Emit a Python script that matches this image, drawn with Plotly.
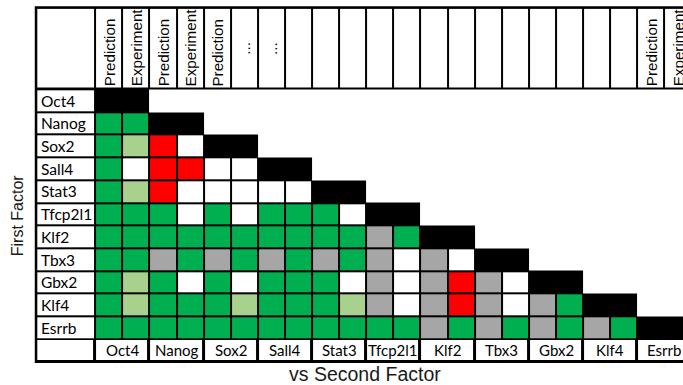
import plotly.graph_objects as go

# Factors, in row / column order
factors = ["Oct4", "Nanog", "Sox2", "Sall4", "Stat3", "Tfcp2l1",
           "Klf2", "Tbx3", "Gbx2", "Klf4", "Esrrb"]

# Sub-column captions of the header row (Prediction / Experiment per factor)
header_labels = (["Prediction", "Experiment", "Prediction", "Experiment",
                  "Prediction", "...", "..."] + [""] * 13 +
                 ["Prediction", "Experiment"])

# Outcome codes, one pair (prediction, experiment) per earlier factor
# G = green, L = light green, R = red, W = white, N = grey (no call)
outcomes = [
    "",
    "GG",
    "GLRW",
    "GWRRWW",
    "GLRWWWWW",
    "GGGWGWGGGW",
    "GGGGGGGGGGNG",
    "GGNGNGNGNGNWNW",
    "GLGWGWGGGWNWNRNW",
    "GLGGGLGGGLNWNRNWNG",
    "GGGGGGGGGGGGNGNGNGNG",
]

code_value = {"W": 0, "G": 1, "L": 2, "R": 3, "N": 4, "B": 5}
palette = ["#FFFFFF", "#00B050", "#A9D18E", "#FF0000", "#A6A6A6", "#000000"]

n = len(factors)
ncol = 2 * n
label_left = -2.188
header_top = -3.604

x_edges = [label_left] + list(range(ncol + 1))
y_body = list(range(n + 1))

# Cell values for the body (label column + 22 sub-columns)
body = []
for r in range(n):
    row = [0]
    for c in range(ncol):
        if c < 2 * r:
            row.append(code_value[outcomes[r][c]])
        elif c in (2 * r, 2 * r + 1):
            row.append(code_value["B"])
        else:
            row.append(None)
    body.append(row)

# Black backing that shows through the gaps as cell borders
backing = [[1] * (ncol + 1)]
for r in range(n):
    backing.append([1 if v is not None else None for v in body[r]])
backing.append([1] * (ncol + 1))

scale = [[i / 5, col] for i, col in enumerate(palette)]

fig = go.Figure()
fig.add_trace(go.Heatmap(
    z=backing, x=x_edges, y=[header_top] + y_body + [n + 1],
    colorscale=[[0, "#000000"], [1, "#000000"]], zmin=0, zmax=1,
    showscale=False, hoverinfo="skip"))
fig.add_trace(go.Heatmap(
    z=[[0] * (ncol + 1)], x=x_edges, y=[header_top, 0],
    colorscale=scale, zmin=0, zmax=5, xgap=2, ygap=3,
    showscale=False, hoverinfo="skip"))
fig.add_trace(go.Heatmap(
    z=body, x=x_edges, y=y_body,
    colorscale=scale, zmin=0, zmax=5, xgap=2, ygap=2,
    showscale=False, hoverinfo="skip"))
fig.add_trace(go.Heatmap(
    z=[[0] * (n + 1)], x=[label_left] + list(range(0, ncol + 1, 2)),
    y=[n, n + 1],
    colorscale=scale, zmin=0, zmax=5, xgap=3, ygap=3,
    showscale=False, hoverinfo="skip"))

# Outer frame of the table
fig.add_shape(type="rect", xref="x", yref="y",
              x0=label_left, x1=ncol, y0=header_top, y1=n + 1,
              line=dict(color="#000000", width=2.5), layer="above")

label_font = dict(family="Lato", size=15.5, color="#000000")
bottom_font = dict(family="Lato", size=15, color="#000000")
head_font = dict(family="Liberation Sans", size=15.2, color="#000000")

# Header captions, rotated
for c, txt in enumerate(header_labels):
    if not txt:
        continue
    if txt == "...":
        fig.add_annotation(x=c + 0.5, y=-1.8, text=txt, textangle=-90,
                           showarrow=False, font=head_font,
                           xanchor="center", yanchor="middle")
    else:
        fig.add_annotation(x=c + 0.5, y=0, text=txt, textangle=-90,
                           showarrow=False, font=head_font,
                           xanchor="center", yanchor="bottom", yshift=1)

# Row labels (first factor)
for r, name in enumerate(factors):
    fig.add_annotation(x=label_left, y=r + 0.5, text=name, showarrow=False,
                       font=label_font, xanchor="left", yanchor="middle",
                       xshift=3)

# Column labels (second factor)
for k, name in enumerate(factors):
    fig.add_annotation(x=2 * k + 1, y=n + 0.5, text=name, showarrow=False,
                       font=bottom_font, xanchor="center", yanchor="middle")

fig.add_annotation(x=-2.89, y=5.55, text="First Factor", textangle=-90,
                   showarrow=False,
                   font=dict(family="Liberation Sans", size=16,
                             color="#1a1a1a"),
                   xanchor="center", yanchor="middle")
fig.add_annotation(x=9.95, y=12.54, text="vs Second Factor",
                   showarrow=False,
                   font=dict(family="Liberation Sans", size=19.5,
                             color="#1a1a1a"),
                   xanchor="center", yanchor="middle")

fig.update_xaxes(range=[-95.3 / 27.1, (683 - 95.3) / 27.1], visible=False,
                 showgrid=False, zeroline=False)
fig.update_yaxes(range=[(385 - 89.3) / 22.7, -89.3 / 22.7], visible=False,
                 showgrid=False, zeroline=False)
fig.update_layout(width=683, height=385, margin=dict(l=0, r=0, t=0, b=0),
                  paper_bgcolor="white", plot_bgcolor="white",
                  showlegend=False)

fig.write_html("out.html")
